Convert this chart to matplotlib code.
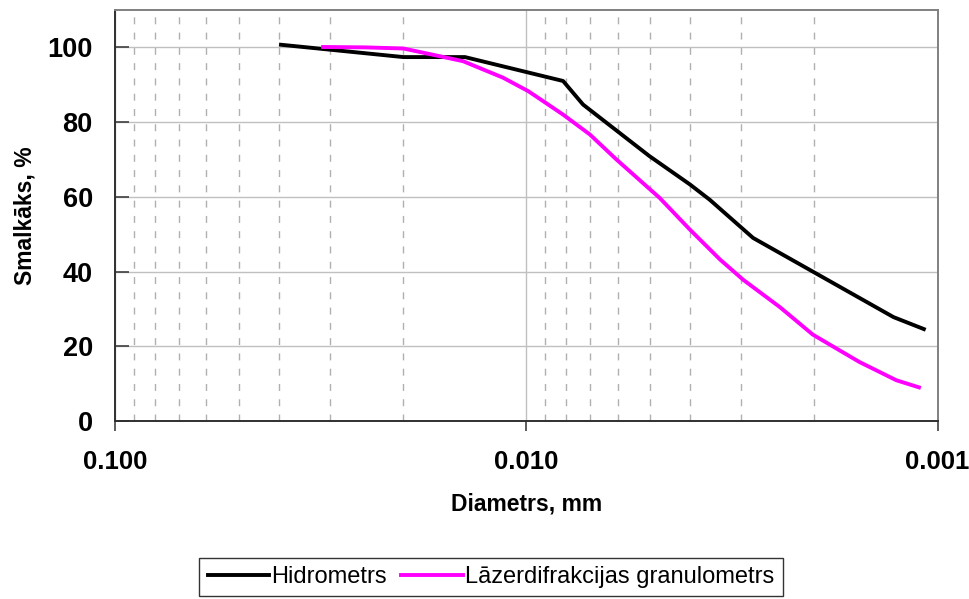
import matplotlib
matplotlib.use('Agg')
import matplotlib.pyplot as plt
from matplotlib.ticker import FixedLocator, LogLocator, NullFormatter

plt.rcParams['font.family'] = ['Liberation Sans', 'DejaVu Sans']

# Hidrometrs
hidro_d = [0.0395, 0.0199, 0.0141, 0.00814, 0.00728, 0.00502, 0.00400, 0.00358, 0.00281, 0.00128, 0.00108]
hidro_p = [100.7, 97.4, 97.4, 91.0, 84.7, 70.9, 63.3, 59.2, 49.0, 27.8, 24.6]

# Lazerdifrakcijas granulometrs
lazer_d = [0.0312, 0.0248, 0.0199, 0.01425, 0.0114, 0.0099, 0.0091, 0.00814, 0.00701, 0.00604,
           0.00474, 0.0040, 0.00338, 0.00297, 0.00242, 0.00201, 0.00155, 0.00126, 0.00111]
lazer_p = [100.1, 100.0, 99.7, 96.3, 91.9, 88.3, 85.6, 82.0, 76.7, 70.0,
           59.7, 51.2, 43.2, 37.8, 30.5, 23.1, 15.8, 10.9, 9.0]

y_ticks = [0, 20, 40, 60, 80, 100]
x_ticks = [0.1, 0.01, 0.001]
x_labels = ['0.100', '0.010', '0.001']

fig = plt.figure(figsize=(9.7, 5.99), dpi=100)
ax = fig.add_axes([0.1186, 0.2972, 0.848, 0.6861])

ax.plot(hidro_d, hidro_p, color='black', lw=2.8, label='Hidrometrs')
ax.plot(lazer_d, lazer_p, color='#ff00ff', lw=2.8, label='Lāzerdifrakcijas granulometrs')

ax.set_xscale('log')
ax.set_xlim(0.1, 0.001)
ax.set_ylim(0, 110)

ax.xaxis.set_major_locator(FixedLocator(x_ticks))
ax.set_xticklabels(x_labels)
ax.xaxis.set_minor_locator(LogLocator(base=10, subs=range(2, 10)))
ax.xaxis.set_minor_formatter(NullFormatter())
ax.set_yticks(y_ticks)

ax.tick_params(axis='x', which='major', direction='out', length=7, width=1.2,
               color='#404040', labelsize=18.5, pad=14)
ax.tick_params(axis='x', which='minor', length=0)
ax.tick_params(axis='y', which='major', direction='in', length=10, width=1.2,
               color='#404040', labelsize=19.5, pad=16)
for lab in ax.get_xticklabels() + ax.get_yticklabels():
    lab.set_fontweight('bold')

ax.grid(True, axis='y', which='major', color='#c0c0c0', lw=1, ls='-')
ax.grid(True, axis='x', which='major', color='#c0c0c0', lw=1, ls='-')
ax.grid(True, axis='x', which='minor', color='#b0b0b0', lw=1, ls=(0, (5, 6)))
ax.set_axisbelow(True)

for side in ['left', 'bottom']:
    ax.spines[side].set_color('#303030')
    ax.spines[side].set_linewidth(1.4)
for side in ['top', 'right']:
    ax.spines[side].set_color('#808080')
    ax.spines[side].set_linewidth(1.4)

ax.set_xlabel('Diametrs, mm', fontsize=16.5, fontweight='bold', labelpad=13)
ax.set_ylabel('Smalkāks, %', fontsize=16.5, fontweight='bold', labelpad=8)

leg = ax.legend(loc='center', bbox_to_anchor=(491 / 970, 1 - 577 / 599), bbox_transform=fig.transFigure,
                ncol=2, fontsize=17, frameon=True, fancybox=False, handlelength=2.6,
                handletextpad=0.1, columnspacing=0.6, borderpad=0.35, borderaxespad=0)
leg.get_frame().set_edgecolor('black')
leg.get_frame().set_linewidth(1.0)

fig.savefig('out.png', dpi=100)
